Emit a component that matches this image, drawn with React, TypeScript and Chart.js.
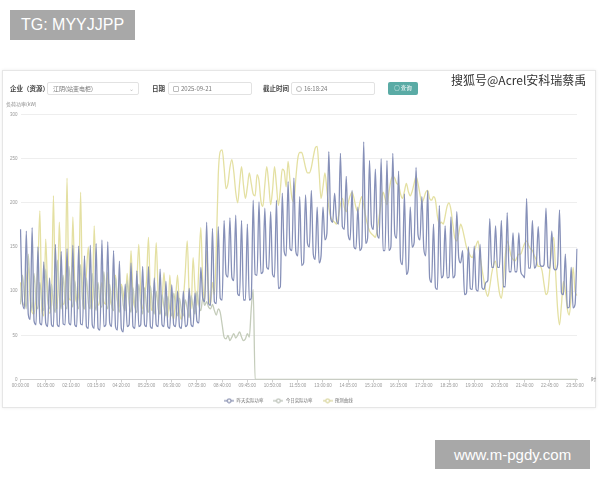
import React, { useEffect, useRef } from "react";
import { Chart, registerables } from "chart.js";
Chart.register(...registerables);

const seriesNames = ["昨天实际功率", "今日实际功率", "预测曲线"];
const yTicks = [0, 50, 100, 150, 200, 250, 300];
const labelEvery = 13;

// 5-minute categories 00:00:00 .. 23:55:00
const pad = (n: number) => (n < 10 ? "0" + n : "" + n);
const timeLabels: string[] = [];
for (let m = 0; m < 24 * 60; m += 5) {
  timeLabels.push(`${pad(Math.floor(m / 60))}:${pad(m % 60)}:00`);
}

const yesterday = [
  170, 88, 80, 168, 74, 68, 172, 66, 62, 150, 64, 62,
  133, 64, 60, 115, 62, 60, 153, 62, 60, 145, 63, 62,
  148, 64, 62, 152, 62, 60, 151, 63, 62, 140, 60, 58,
  152, 62, 58, 154, 58, 56, 158, 60, 62, 156, 64, 60,
  146, 60, 56, 134, 58, 54, 108, 60, 62, 132, 60, 58,
  123, 60, 62, 128, 62, 60, 128, 60, 58, 115, 62, 60,
  125, 62, 60, 111, 60, 58, 107, 62, 60, 100, 60, 58,
  100, 60, 62, 103, 62, 60, 98, 66, 64, 127, 92, 88,
  178, 86, 84, 171, 88, 86, 173, 92, 90, 180, 119, 116,
  183, 116, 112, 186, 97, 95, 180, 90, 90, 176, 90, 92,
  203, 119, 118, 201, 120, 122, 194, 127, 125, 190, 119, 116,
  203, 103, 105, 211, 145, 140, 224, 148, 146, 228, 145, 140,
  207, 129, 132, 209, 154, 150, 214, 142, 136, 195, 132, 140,
  195, 158, 165, 258, 182, 178, 211, 180, 176, 256, 173, 170,
  230, 164, 158, 214, 150, 148, 195, 146, 150, 269, 154, 160,
  248, 175, 170, 238, 165, 160, 250, 146, 146, 248, 146, 150,
  256, 165, 160, 236, 135, 130, 210, 119, 125, 195, 150, 155,
  240, 164, 158, 207, 148, 140, 214, 115, 110, 176, 104, 102,
  197, 115, 118, 174, 115, 116, 184, 115, 118, 190, 138, 132,
  146, 96, 98, 150, 103, 102, 151, 102, 100, 153, 104, 102,
  110, 112, 182, 127, 127, 174, 127, 127, 180, 105, 105, 189,
  122, 122, 166, 122, 122, 166, 122, 118, 115, 205, 126, 126,
  180, 126, 130, 173, 130, 128, 130, 194, 128, 126, 168, 126,
  124, 130, 192, 98, 96, 142, 81, 82, 127, 81, 85, 148,
];

const today = [
  85, 118, 95, 80, 142, 100, 78, 120, 88, 80, 110, 86,
  78, 125, 90, 80, 108, 84, 76, 135, 96, 80, 118, 86,
  80, 128, 94, 82, 112, 88, 80, 130, 90, 80, 115, 86,
  80, 120, 92, 78, 110, 86, 82, 122, 90, 80, 108, 84,
  78, 115, 88, 76, 105, 84, 78, 112, 86, 76, 104, 82,
  76, 108, 86, 74, 104, 82, 76, 106, 84, 74, 100, 80,
  74, 96, 82, 72, 94, 80, 72, 98, 82, 72, 92, 78,
  72, 90, 80, 70, 95, 82, 74, 100, 84, 78, 92, 84,
  88, 82, 80, 85, 78, 73, 80, 76, 62, 48, 46, 50,
  44, 48, 52, 47, 50, 54, 48, 44, 46, 52, 48, 80,
  102, 0, 0, 0, 0, 0, 0, 0, 0, 0, 0, 0,
  0, 0, 0, 0, 0, 0, 0, 0, 0, 0, 0, 0,
  0, 0, 0, 0, 0, 0, 0, 0, 0, 0, 0, 0,
  0, 0, 0, 0, 0, 0, 0, 0, 0, 0, 0, 0,
  0, 0, 0, 0, 0, 0, 0, 0, 0, 0, 0, 0,
  0, 0, 0, 0, 0, 0, 0, 0, 0, 0, 0, 0,
  0, 0, 0, 0, 0, 0, 0, 0, 0, 0, 0, 0,
  0, 0, 0, 0, 0, 0, 0, 0, 0, 0, 0, 0,
  0, 0, 0, 0, 0, 0, 0, 0, 0, 0, 0, 0,
  0, 0, 0, 0, 0, 0, 0, 0, 0, 0, 0, 0,
  0, 0, 0, 0, 0, 0, 0, 0, 0, 0, 0, 0,
  0, 0, 0, 0, 0, 0, 0, 0, 0, 0, 0, 0,
  0, 0, 0, 0, 0, 0, 0, 0, 0, 0, 0, 0,
  0, 0, 0, 0, 0, 0, 0, 0, 0, 0, 0, 0,
];

const forecast = [
  110, 88, 84, 112, 127, 90, 76, 74, 95, 130, 191, 78,
  72, 159, 100, 75, 92, 208, 86, 80, 178, 110, 85, 98,
  228, 92, 90, 184, 105, 88, 96, 212, 90, 80, 120, 150,
  95, 80, 174, 100, 84, 92, 110, 88, 85, 121, 95, 84,
  100, 118, 90, 82, 108, 98, 84, 120, 92, 146, 95, 82,
  110, 153, 98, 80, 96, 112, 161, 92, 78, 105, 155, 96,
  75, 88, 121, 85, 70, 118, 82, 68, 92, 118, 78, 68,
  90, 122, 157, 95, 80, 138, 102, 84, 130, 172, 110, 88,
  146, 100, 85, 110, 96, 150, 232, 258, 260, 240, 216, 222,
  240, 249, 235, 212, 200, 222, 241, 220, 205, 218, 234, 222,
  210, 208, 232, 225, 202, 196, 220, 241, 222, 198, 215, 241,
  220, 197, 215, 238, 236, 218, 247, 225, 205, 201, 228, 250,
  257, 257, 250, 240, 234, 234, 240, 252, 262, 264, 235, 205,
  218, 234, 215, 195, 184, 180, 178, 176, 185, 198, 205, 195,
  190, 200, 208, 212, 205, 195, 190, 200, 207, 198, 185, 175,
  168, 165, 163, 161, 170, 185, 200, 212, 205, 198, 212, 225,
  230, 228, 222, 220, 210, 205, 213, 222, 213, 208, 213, 222,
  230, 222, 210, 200, 205, 212, 214, 205, 203, 207, 203, 185,
  176, 178, 176, 185, 196, 200, 192, 175, 160, 157, 165, 176,
  170, 160, 150, 145, 140, 138, 145, 152, 157, 140, 125, 112,
  100, 94, 105, 120, 130, 134, 115, 98, 92, 110, 140, 157,
  150, 140, 136, 134, 138, 142, 142, 148, 154, 157, 152, 148,
  146, 140, 135, 128, 128, 123, 108, 96, 100, 125, 150, 161,
  120, 80, 62, 85, 111, 100, 80, 73, 95, 127, 100, 95,
];

const colors = ["#8690b8", "#c4ccba", "#e4e0a2"];
const markerColors = ["#6f789f", "#aab2a6", "#cfcb86"];

function makeMarker(color: string) {
  const c = document.createElement("canvas");
  c.width = 10;
  c.height = 6;
  const ctx = c.getContext("2d")!;
  ctx.strokeStyle = color;
  ctx.lineWidth = 1;
  ctx.beginPath();
  ctx.moveTo(0, 3);
  ctx.lineTo(10, 3);
  ctx.stroke();
  ctx.beginPath();
  ctx.arc(5, 3, 2, 0, Math.PI * 2);
  ctx.fillStyle = "#fff";
  ctx.fill();
  ctx.stroke();
  return c;
}

const boxStyle: React.CSSProperties = {
  position: "absolute",
  top: 82,
  height: 13,
  border: "1px solid #e2e2e2",
  borderRadius: 2,
  boxSizing: "border-box",
  fontSize: 6,
  color: "#777",
  lineHeight: "11px",
};
const labelStyle: React.CSSProperties = {
  position: "absolute",
  top: 82,
  fontSize: 6.5,
  fontWeight: 700,
  color: "#444",
  lineHeight: "13px",
};

export default function App() {
  const ref = useRef<HTMLCanvasElement>(null);
  useEffect(() => {
    const series = [yesterday, today, forecast];
    const chart = new Chart(ref.current!, {
      type: "line",
      data: {
        labels: timeLabels,
        datasets: series.map((d, i) => ({
          label: seriesNames[i],
          data: d,
          borderColor: colors[i],
          backgroundColor: "#fff",
          borderWidth: 1.3,
          pointRadius: 0,
          pointStyle: makeMarker(markerColors[i]) as any,
          cubicInterpolationMode: "monotone" as const,
          fill: false,
        })),
      },
      options: {
        animation: false,
        responsive: true,
        maintainAspectRatio: false,
        layout: { padding: { top: 14.5, right: 23, left: 0, bottom: 0 } },
        plugins: {
          tooltip: { enabled: false },
          legend: {
            position: "bottom",
            labels: {
              usePointStyle: true,
              pointStyleWidth: 10,
              boxHeight: 6,
              padding: 10,
              color: "#777",
              font: { size: 4.5, family: '"Noto Sans CJK SC", sans-serif' },
            },
          },
        },
        scales: {
          x: {
            type: "category",
            afterBuildTicks: (axis: any) => {
              axis.ticks = axis.ticks.filter((t: any) => t.value % labelEvery === 0);
            },
            afterFit: (s: any) => {
              s.height = 9;
            },
            ticks: {
              autoSkip: false,
              maxRotation: 0,
              minRotation: 0,
              padding: 1,
              color: "#999",
              font: { size: 4.5, family: '"Liberation Sans", Arial, sans-serif' },
            },
            grid: {
              display: true,
              drawOnChartArea: false,
              drawTicks: true,
              tickLength: 3,
              color: "#cfcfcf",
            },
            border: { display: true, color: "#cfcfcf" },
          },
          y: {
            min: 0,
            max: 300,
            afterBuildTicks: (axis: any) => {
              axis.ticks = yTicks.map((v) => ({ value: v }));
            },
            afterFit: (s: any) => {
              s.width = 20.5;
            },
            ticks: {
              padding: 3,
              color: "#999",
              font: { size: 4.5, family: '"Liberation Sans", Arial, sans-serif' },
            },
            grid: { color: "#eeeeee", drawTicks: false, lineWidth: 1 },
            border: { display: false },
          },
        },
      },
    });
    return () => chart.destroy();
  }, []);

  return (
    <div
      style={{
        position: "fixed",
        left: 0,
        top: 0,
        width: 600,
        height: 480,
        background: "#fff",
        overflow: "hidden",
        fontFamily: '"Noto Sans CJK SC", sans-serif',
      }}
    >
      <div
        style={{
          position: "absolute",
          left: 10,
          top: 10,
          width: 125,
          height: 30,
          background: "#a8a8a8",
          color: "#fff",
          fontSize: 16,
          lineHeight: "30px",
          textAlign: "center",
          fontFamily: '"Liberation Sans", Arial, sans-serif',
        }}
      >
        TG: MYYJJPP
      </div>

      <div style={{ position: "absolute", left: 0, top: 0, width: 600, height: 480, filter: "blur(0.4px)" }}>
        <div
          style={{
            position: "absolute",
            left: 2,
            top: 70,
            width: 594,
            height: 338,
            background: "#fff",
            border: "1px solid #e6e6e6",
            boxShadow: "0 0 3px rgba(0,0,0,0.08)",
            boxSizing: "border-box",
          }}
        />
        <div style={{ ...labelStyle, left: 10 }}>企业（资源）</div>
        <div style={{ ...boxStyle, left: 47, width: 92, paddingLeft: 5 }}>
          江阴(站变电柜)
          <span style={{ position: "absolute", right: 4, top: 0, color: "#bbb" }}>⌄</span>
        </div>
        <div style={{ ...labelStyle, left: 152 }}>日期</div>
        <div style={{ ...boxStyle, left: 168, width: 84, paddingLeft: 12 }}>
          <span
            style={{
              position: "absolute",
              left: 4,
              top: 3,
              width: 4,
              height: 4,
              border: "1px solid #bbb",
              borderRadius: 1,
            }}
          />
          2025-09-21
        </div>
        <div style={{ ...labelStyle, left: 263 }}>截止时间</div>
        <div style={{ ...boxStyle, left: 291, width: 84, paddingLeft: 12 }}>
          <span
            style={{
              position: "absolute",
              left: 4,
              top: 3,
              width: 4,
              height: 4,
              border: "1px solid #bbb",
              borderRadius: "50%",
            }}
          />
          16:18:24
        </div>
        <div
          style={{
            position: "absolute",
            left: 388,
            top: 82,
            width: 30,
            height: 13,
            background: "#5aaba5",
            borderRadius: 2,
            color: "#fff",
            fontSize: 5.5,
            lineHeight: "13px",
            textAlign: "center",
          }}
        >
          ○ 查询
        </div>
        <div style={{ position: "absolute", left: 6, top: 100, fontSize: 5, color: "#888" }}>负荷功率(kW)</div>
        <div style={{ position: "absolute", left: 591, top: 375, fontSize: 5, color: "#888" }}>时</div>

        <div style={{ position: "absolute", left: 0, top: 100, width: 600, height: 313 }}>
          <canvas ref={ref} />
        </div>
      </div>

      <div
        style={{
          position: "absolute",
          left: 451,
          top: 71,
          fontSize: 12,
          color: "#333",
          whiteSpace: "nowrap",
        }}
      >
        搜狐号@Acrel安科瑞蔡禹
      </div>

      <div
        style={{
          position: "absolute",
          left: 435,
          top: 440,
          width: 155,
          height: 29,
          background: "#a8a8a8",
          color: "#fff",
          fontSize: 15,
          lineHeight: "29px",
          textAlign: "center",
          fontFamily: '"Liberation Sans", Arial, sans-serif',
        }}
      >
        www.m-pgdy.com
      </div>
    </div>
  );
}
